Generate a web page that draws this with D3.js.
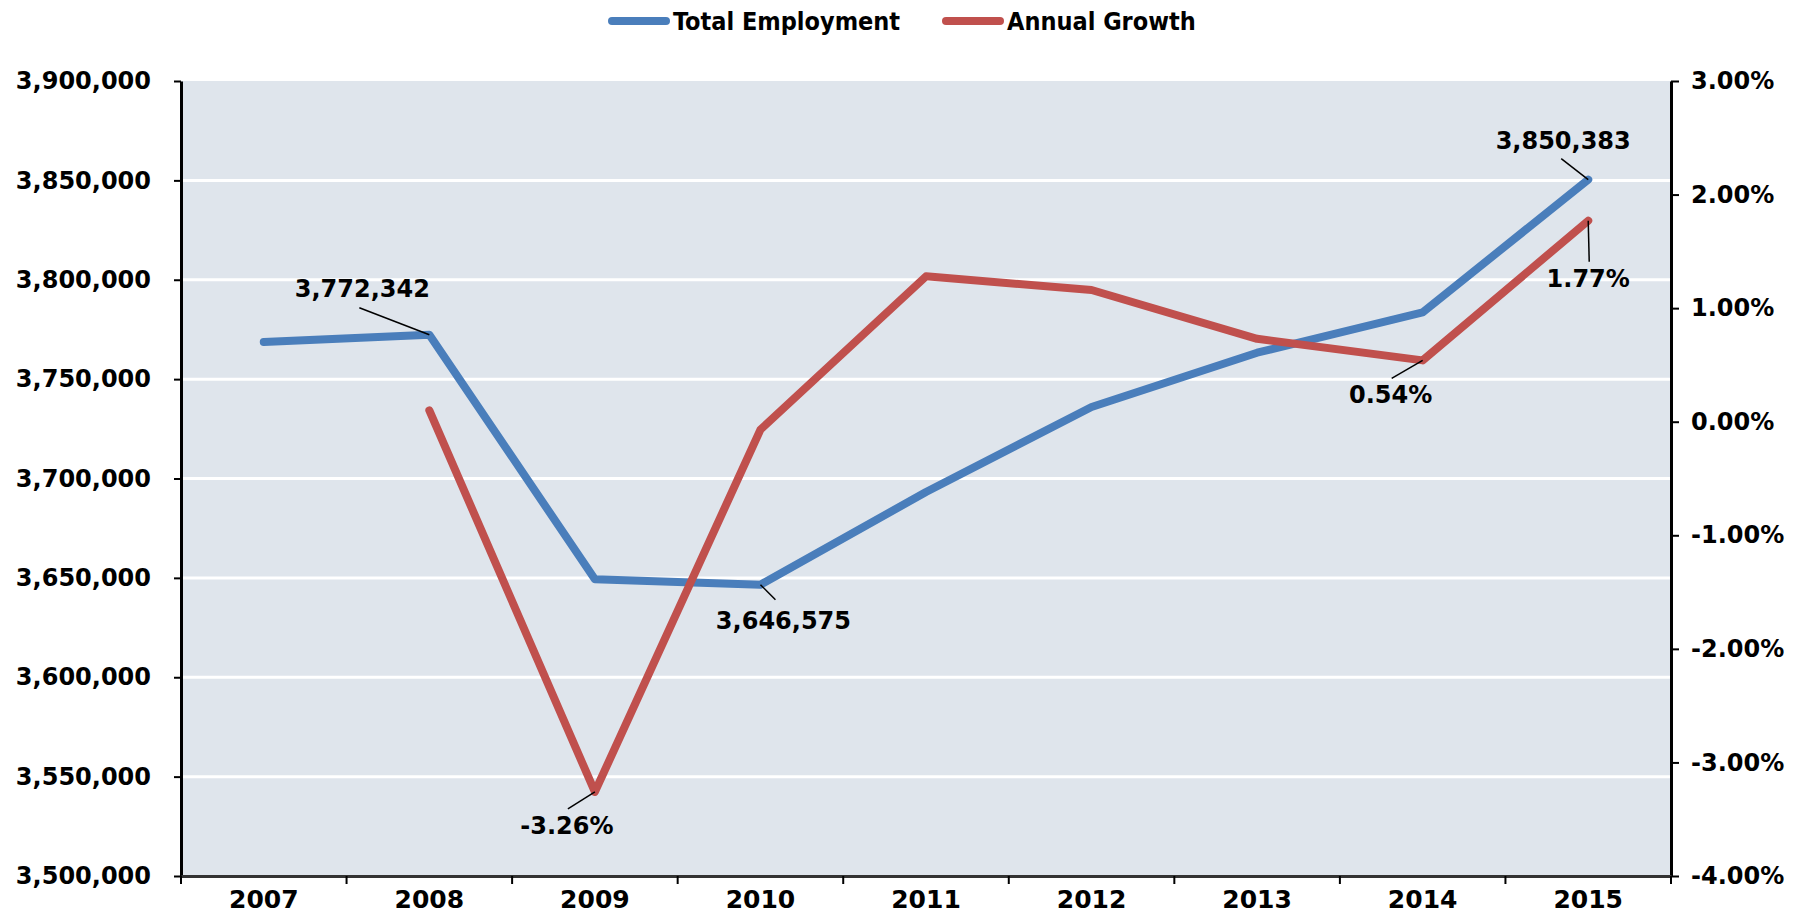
<!DOCTYPE html>
<html lang="en">
<head>
<meta charset="UTF-8">
<title>Total Employment and Annual Growth</title>
<script src="https://d3js.org/d3.v7.min.js"></script>
<style>
  body { margin: 0; background: #fff; }
  .tick text, .legend-text, .note { font-family: "DejaVu Sans", sans-serif; font-weight: bold; fill: #000; }
  .legend-text { font-family: "DejaVu Sans Condensed", "DejaVu Sans", sans-serif; }
  .line { fill: none; stroke-width: 8px; stroke-linejoin: round; stroke-linecap: round; }
  .emp-line { stroke: #4a7ebb; }
  .growth-line { stroke: #c0504d; }
  .grid line { stroke: #fff; stroke-width: 3px; }
</style>
</head>
<body>
<svg width="1809" height="921"></svg>
<script>
// data
const years = ["2007", "2008", "2009", "2010", "2011", "2012", "2013", "2014", "2015"];
const employment = [3768700, 3772342, 3649300, 3646575, 3693200, 3736000, 3763300, 3783600, 3850383];
const growth = [null, 0.10, -3.26, -0.07, 1.28, 1.16, 0.73, 0.54, 1.77];
const leftTicks = [3500000, 3550000, 3600000, 3650000, 3700000, 3750000, 3800000, 3850000, 3900000];
const rightTicks = [-4, -3, -2, -1, 0, 1, 2, 3];

// which points get a value label, and where the label sits relative to the point
const notes = [
  { series: "emp", i: 1, dx: -67, dy: -38, lx: -70, ly: -27 },
  { series: "emp", i: 3, dx: 23, dy: 44, lx: 15, ly: 15 },
  { series: "emp", i: 8, dx: -25, dy: -31, lx: -27, ly: -21 },
  { series: "growth", i: 2, dx: -28, dy: 42, lx: -27, ly: 17 },
  { series: "growth", i: 7, dx: -32, dy: 43, lx: -31, ly: 18 },
  { series: "growth", i: 8, dx: 0, dy: 66, lx: 1, ly: 41 }
];

// plain hyphen for negatives, like the original
const locale = d3.formatLocale({ decimal: ".", thousands: ",", grouping: [3], currency: ["$", ""], minus: "-" });
const fmtInt = locale.format(",");
const fmtPct = d => locale.format(".2f")(d) + "%";

const svg = d3.select("svg"),
    margin = { top: 81, right: 138, bottom: 45, left: 181 },
    width = +svg.attr("width") - margin.left - margin.right,
    height = +svg.attr("height") - margin.top - margin.bottom,
    g = svg.append("g").attr("transform", "translate(" + margin.left + "," + margin.top + ")");

const x = d3.scaleBand().domain(years).range([0, width]).padding(0);
const cx = d => x(d) + x.bandwidth() / 2;

const yL = d3.scaleLinear().domain([3500000, 3900000]).range([height, 0]);
const yR = d3.scaleLinear().domain([-4, 3]).range([height, 0]);

// plot area
g.append("rect")
    .attr("width", width)
    .attr("height", height)
    .attr("fill", "#dfe5ec");

// gridlines
g.append("g")
    .attr("class", "grid")
    .selectAll("line")
    .data(leftTicks.slice(1, -1))
    .join("line")
    .attr("x1", 0)
    .attr("x2", width)
    .attr("y1", d => yL(d))
    .attr("y2", d => yL(d));

// left axis
const axL = g.append("g")
    .call(d3.axisLeft(yL).tickValues(leftTicks).tickFormat(fmtInt).tickSizeInner(7).tickSizeOuter(0).tickPadding(23));

// right axis
const axR = g.append("g")
    .attr("transform", "translate(" + width + ",0)")
    .call(d3.axisRight(yR).tickValues(rightTicks).tickFormat(fmtPct).tickSizeInner(8).tickSizeOuter(0).tickPadding(12));

// bottom axis: labels at band centres, ticks at band edges
const axB = g.append("g")
    .attr("transform", "translate(0," + height + ")")
    .call(d3.axisBottom(x).tickSize(0).tickPadding(14));

axB.selectAll(".edge")
    .data(years.concat(["end"]))
    .join("line")
    .attr("class", "edge")
    .attr("x1", (d, i) => i * x.bandwidth())
    .attr("x2", (d, i) => i * x.bandwidth())
    .attr("y1", 0)
    .attr("y2", 8)
    .attr("stroke", "#000")
    .attr("stroke-width", 2);

[axL, axR, axB].forEach(a => {
    a.select(".domain").attr("stroke", "#000").attr("stroke-width", 3);
    a.selectAll(".tick line").attr("stroke", "#000").attr("stroke-width", 2);
    a.selectAll(".tick text").style("font-size", "24px");
});
axB.select(".domain").attr("stroke", "#333");
axB.selectAll(".tick text").style("font-size", "25px");

// lines
const empLine = d3.line()
    .x((d, i) => cx(years[i]))
    .y(d => yL(d));

const growthLine = d3.line()
    .defined(d => d !== null)
    .x((d, i) => cx(years[i]))
    .y(d => yR(d));

g.append("path")
    .datum(employment)
    .attr("class", "line emp-line")
    .attr("d", empLine);

g.append("path")
    .datum(growth)
    .attr("class", "line growth-line")
    .attr("d", growthLine);

// value labels with leader lines
notes.forEach(n => {
    const px = cx(years[n.i]);
    const py = n.series === "emp" ? yL(employment[n.i]) : yR(growth[n.i]);
    const label = n.series === "emp" ? fmtInt(employment[n.i]) : fmtPct(growth[n.i]);
    g.append("line")
        .attr("x1", px)
        .attr("y1", py)
        .attr("x2", px + n.lx)
        .attr("y2", py + n.ly)
        .attr("stroke", "#000")
        .attr("stroke-width", 1.5);
    g.append("text")
        .attr("class", "note")
        .attr("x", px + n.dx)
        .attr("y", py + n.dy)
        .attr("text-anchor", "middle")
        .style("font-size", "24px")
        .text(label);
});

// legend
const legendItems = [
    { name: "Total Employment", cls: "emp-line" },
    { name: "Annual Growth", cls: "growth-line" }
];
const legend = svg.append("g").attr("transform", "translate(612,21)");
const offsets = [0, 334];
legendItems.forEach((d, i) => {
    const item = legend.append("g").attr("transform", "translate(" + offsets[i] + ",0)");
    item.append("line")
        .attr("class", "line " + d.cls)
        .attr("x1", 0)
        .attr("x2", 54)
        .attr("y1", 0)
        .attr("y2", 0);
    item.append("text")
        .attr("class", "legend-text")
        .attr("x", 61)
        .attr("y", 9)
        .style("font-size", "25px")
        .text(d.name);
});
</script>
</body>
</html>
